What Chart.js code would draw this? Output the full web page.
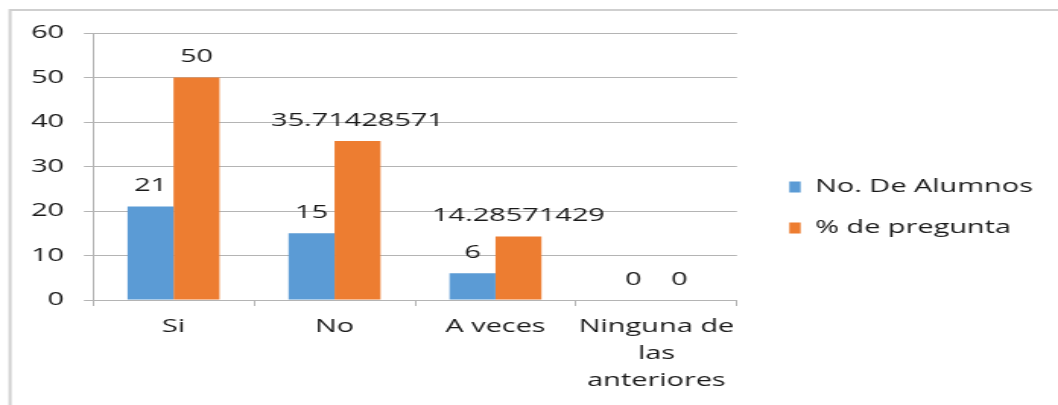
<!DOCTYPE html>
<html>
<head>
<meta charset="utf-8">
<script src="https://cdn.jsdelivr.net/npm/chart.js@4/dist/chart.umd.min.js"></script>
<style>
  html, body { margin: 0; padding: 0; background: #ffffff; overflow: hidden; }
  #wrap { position: absolute; left: 0; top: 0; width: 696px; height: 405px;
          transform: scale(1.52011, 1); transform-origin: 0 0; }
</style>
</head>
<body>
<div id="wrap"><canvas id="c"></canvas></div>
<script>
// ---- data ----
const categories = ['Si', 'No', 'A veces', ['Ninguna de', 'las', 'anteriores']];
const seriesNames = ['No. De Alumnos', '% de pregunta'];
const alumnos = [21, 15, 6, 0];
const porcentaje = [50, 35.71428571, 14.28571429, 0];
const yTicks = [0, 10, 20, 30, 40, 50, 60];

const FONT = "'Open Sans', 'DejaVu Sans', sans-serif";
const TEXT = '#1a1a1a';
const GRID = '#b4b4b4';

const framePlugin = {
  id: 'frame',
  beforeDraw(chart) {
    const ctx = chart.ctx;
    ctx.save();
    ctx.strokeStyle = '#cfcfcf';
    ctx.lineWidth = 2;
    ctx.beginPath();
    ctx.moveTo(6.6, 405);
    ctx.lineTo(6.6, 10);
    ctx.lineTo(chart.width, 10);
    ctx.stroke();
    ctx.restore();
  }
};

const legendPlace = {
  id: 'legendPlace',
  afterLayout(chart) {
    const lg = chart.legend;
    if (!lg) return;
    lg.left = 497.2; lg.width = chart.width - lg.left; lg.right = chart.width;
    lg.top = 100; lg.bottom = 315; lg.height = 215;
  }
};

const valueLabels = {
  id: 'valueLabels',
  afterDatasetsDraw(chart) {
    const ctx = chart.ctx;
    ctx.save();
    ctx.font = '19px ' + FONT;
    ctx.fillStyle = TEXT;
    ctx.textAlign = 'center';
    ctx.textBaseline = 'alphabetic';
    chart.data.datasets.forEach((ds, i) => {
      const meta = chart.getDatasetMeta(i);
      meta.data.forEach((bar, j) => {
        ctx.fillText(String(ds.data[j]), bar.x, bar.y - 15.5);
      });
    });
    ctx.restore();
  }
};

new Chart(document.getElementById('c'), {
  type: 'bar',
  data: {
    labels: categories,
    datasets: [
      { label: seriesNames[0], data: alumnos, backgroundColor: '#5b9bd5',
        categoryPercentage: 0.571, barPercentage: 1.0 },
      { label: seriesNames[1], data: porcentaje, backgroundColor: '#ed7d31',
        categoryPercentage: 0.571, barPercentage: 1.0 }
    ]
  },
  options: {
    responsive: true,
    maintainAspectRatio: false,
    animation: false,
    devicePixelRatio: 1,
    layout: { padding: { left: 0, top: 33, right: 91.2, bottom: 0 } },
    plugins: {
      legend: {
        position: 'right',
        maxWidth: 120,
        labels: {
          boxWidth: 7.5, boxHeight: 11, padding: 22,
          color: TEXT, font: { family: FONT, size: 19 }
        }
      },
      tooltip: { enabled: false }
    },
    scales: {
      x: {
        grid: { display: true, drawOnChartArea: false, drawTicks: true,
                tickLength: 6, color: GRID, offset: true },
        border: { display: true, color: GRID, width: 1 },
        ticks: { color: TEXT, padding: 7.5, maxRotation: 0, autoSkip: false,
                 font: { family: FONT, size: 19, lineHeight: 1.42 } },
        afterFit(s) { s.height = 105; }
      },
      y: {
        min: 0, max: 60,
        afterBuildTicks(s) { s.ticks = yTicks.map(v => ({ value: v })); },
        grid: { color: GRID, lineWidth: 1, drawTicks: true, tickLength: 6 },
        border: { display: true, color: GRID, width: 1 },
        ticks: { color: TEXT, padding: 13, font: { family: FONT, size: 19 } },
        afterFit(s) { s.width = 61.2; }
      }
    }
  },
  plugins: [framePlugin, legendPlace, valueLabels]
});
</script>
</body>
</html>
